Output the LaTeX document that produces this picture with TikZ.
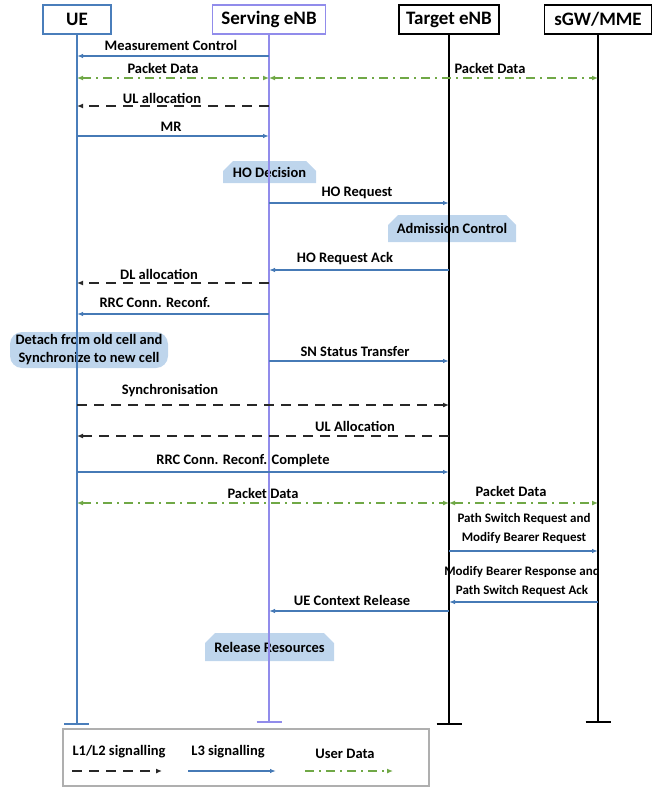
\documentclass[tikz,border=0pt]{standalone}
\usepackage{fontspec}
\setmainfont{Carlito}
\usetikzlibrary{arrows.meta,shapes.misc}
\definecolor{ueblue}{RGB}{74,126,187}
\definecolor{svpurple}{RGB}{145,140,235}
\definecolor{msgblue}{RGB}{70,122,182}
\definecolor{udgreen}{RGB}{112,168,70}
\definecolor{boxfill}{RGB}{190,213,236}
\definecolor{dashgray}{RGB}{40,40,40}
\definecolor{leggray}{RGB}{175,175,175}
\begin{document}
\begin{tikzpicture}[x=1pt,y=-1pt,
  hdr/.style={draw, line width=1.5pt, fill=white, minimum height=29pt, inner sep=0pt, font=\fontsize{19}{21}\selectfont\bfseries},
  lbl/.style={font=\fontsize{14.5}{16}\selectfont\bfseries, inner sep=0pt},
  slbl/.style={font=\fontsize{13}{19}\selectfont\bfseries, inner sep=0pt, align=center},
  life/.style={line width=2pt},
  l3/.style={draw=msgblue, line width=1.3pt, -{Latex[length=6pt,width=4.5pt]}},
  l12/.style={draw=dashgray, line width=2pt, dash pattern=on 10pt off 7pt, -{Latex[length=6pt,width=5pt]}},
  ud/.style={draw=udgreen, line width=1.5pt, dash pattern=on 9pt off 5pt on 2pt off 5pt, {Latex[length=6pt,width=5pt]}-{Latex[length=6pt,width=5pt]}},
  udone/.style={draw=udgreen, line width=1.5pt, dash pattern=on 9pt off 5pt on 2pt off 5pt, -{Latex[length=6pt,width=5pt]}},
  act/.style={chamfered rectangle, chamfered rectangle corners={north west,north east}, chamfered rectangle xsep=5pt, chamfered rectangle ysep=5pt, fill=boxfill, inner sep=0pt, font=\fontsize{14.5}{16}\selectfont\bfseries},
]
\useasboundingbox (0,0) rectangle (662,787);

% activity boxes (drawn below lifelines)
\node[act, minimum width=93pt, minimum height=22pt] (hod) at (269.5,172) {HO Decision};
\node[act, minimum width=128pt, minimum height=27pt] (adm) at (452,228.5) {Admission Control};
\node[act, minimum width=129pt, minimum height=28pt] (rel) at (269.5,647) {Release Resources};
\node[fill=boxfill, rounded corners=12pt, minimum width=158pt, minimum height=36pt, inner sep=0pt, align=center, font=\fontsize{14.5}{18}\selectfont\bfseries] (det) at (89,350) {Detach from old cell and\\Synchronize to new cell};

% headers
\node[hdr, draw=ueblue, minimum width=68pt] (ue) at (77,19.5) {UE};
\node[hdr, draw=svpurple, minimum width=113pt] (sv) at (269,19.5) {Serving eNB};
\node[hdr, draw=black, minimum width=100pt] (tg) at (449,19.5) {Target eNB};
\node[hdr, draw=black, minimum width=107pt] (gw) at (598,19.5) {sGW/MME};

% lifeline ends
\coordinate (ueE) at (77,724);
\coordinate (svE) at (269,722);
\coordinate (tgE) at (449,724);
\coordinate (gwE) at (598,722);
\draw[life, ueblue] (ue.south) -- (ueE);
\draw[life, ueblue] ([xshift=-13pt]ueE) -- ([xshift=12pt]ueE);
\draw[life, svpurple] (sv.south) -- (svE);
\draw[life, svpurple] ([xshift=-12.5pt]svE) -- ([xshift=12.5pt]svE);
\draw[life, black, line width=2.2pt] (tg.south) -- (tgE);
\draw[line width=2.5pt, black] ([xshift=-12.5pt]tgE) -- ([xshift=12.5pt]tgE);
\draw[life, black, line width=2.2pt] (gw.south) -- (gwE);
\draw[line width=2.5pt, black] ([xshift=-12.5pt]gwE) -- ([xshift=12.5pt]gwE);

% messages
\draw[l3] (sv |- 0,56) -- (ue |- 0,56);
\node[lbl] (tMC) at (171,45) {Measurement Control};

\draw[ud] (ue |- 0,78) -- (sv |- 0,78);
\draw[ud] (sv |- 0,78) -- (gw |- 0,78);
\node[lbl] (tPD1) at (163,68) {Packet Data};
\node[lbl] (tPD2) at (490,68) {Packet Data};

\draw[l12] (sv |- 0,106) -- (ue |- 0,106);
\node[lbl] (tUL) at (162,98) {UL allocation};

\draw[l3] (ue |- 0,136) -- (sv |- 0,136);
\node[lbl] (tMR) at (171,127) {MR};

\draw[l3] (sv |- 0,203) -- (tg |- 0,203);
\node[lbl] (tHR) at (357,193) {HO Request};

\draw[l3] (tg |- 0,270) -- (sv |- 0,270);
\node[lbl] (tHRA) at (345,259) {HO Request Ack};

\draw[l12] (sv |- 0,283) -- (ue |- 0,283);
\node[lbl] (tDL) at (159,274) {DL allocation};

\draw[l3] (sv |- 0,314) -- (ue |- 0,314);
\node[lbl] (tRRC) at (155,303) {RRC Conn. Reconf.};

\draw[l3] (sv |- 0,361) -- (tg |- 0,361);
\node[lbl] (tSN) at (355,352) {SN Status Transfer};

\draw[l12] (ue |- 0,405) -- (tg |- 0,405);
\node[lbl] (tSy) at (170,391) {Synchronisation};

\draw[l12] (tg |- 0,436) -- (ue |- 0,436);
\node[lbl] (tULA) at (355,426) {UL Allocation};

\draw[l3] (ue |- 0,472) -- (tg |- 0,472);
\node[lbl] (tRRCC) at (243,461) {RRC Conn. Reconf. Complete};

\draw[ud] (ue |- 0,503) -- (tg |- 0,503);
\draw[ud] (tg |- 0,503) -- (gw |- 0,503);
\node[lbl] (tPD3) at (263,493) {Packet Data};
\node[lbl] (tPD4) at (511,491) {Packet Data};

\draw[l3] (tg |- 0,551) -- (gw |- 0,551);
\node[slbl] (tPS) at (524,528.5) {Path Switch Request and\\Modify Bearer Request};

\draw[l3] (gw |- 0,602) -- (tg |- 0,602);
\node[slbl] (tMB) at (522,581) {Modify Bearer Response and\\Path Switch Request Ack};

\draw[l3] (tg |- 0,611) -- (sv |- 0,611);
\node[lbl] (tUEC) at (352,600) {UE Context Release};

% legend
\node[draw=leggray, line width=1.5pt, fill=white, minimum width=366pt, minimum height=57pt, inner sep=0pt] (leg) at (246,757.5) {};
\node[lbl] (lg1) at (119,752) {L1/L2 signalling};
\node[lbl] (lg2) at (228,752) {L3 signalling};
\node[lbl] (lg3) at (345,754) {User Data};
\coordinate (la1) at (72,771);
\coordinate (lb1) at (162,771);
\coordinate (la2) at (188,771);
\coordinate (lb2) at (276,771);
\coordinate (la3) at (305,771);
\coordinate (lb3) at (393,771);
\draw[l12] (la1) -- (lb1);
\draw[l3] (la2) -- (lb2);
\draw[udone] (la3) -- (lb3);
\end{tikzpicture}
\end{document}
